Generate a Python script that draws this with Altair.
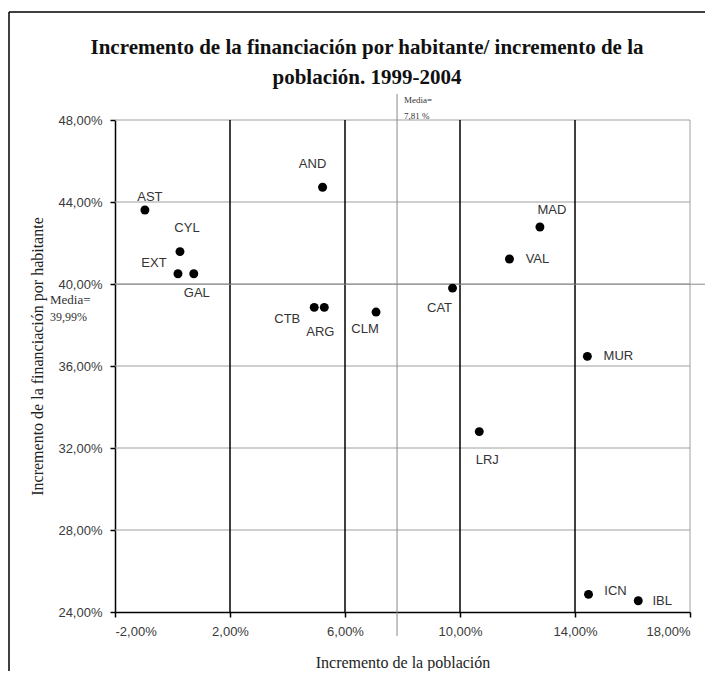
import altair as alt
import pandas as pd

# ---- data ----
regions = ["AST", "CYL", "EXT", "GAL", "AND", "CTB", "ARG", "CLM",
           "CAT", "VAL", "MAD", "MUR", "LRJ", "ICN", "IBL"]
pop_growth = [-0.96, 0.26, 0.19, 0.74, 5.22, 4.93, 5.28, 7.08,
              9.74, 11.72, 12.78, 14.43, 10.67, 14.47, 16.20]
fin_growth = [43.61, 41.58, 40.50, 40.50, 44.72, 38.86, 38.86, 38.63,
              39.80, 41.22, 42.78, 36.47, 32.80, 24.86, 24.55]

x_ticks = [-2, 2, 6, 10, 14, 18]
y_ticks = [24, 28, 32, 36, 40, 44, 48]
mean_x = 7.81
mean_y = 39.99

title_lines = ["Incremento de la financiación por habitante/ incremento de la",
               "población. 1999-2004"]
x_title = "Incremento de la población"
y_title = "Incremento de la financiación por habitante"

# ---- label placement (layout only, pixels) ----
label_offsets = {
    "AST": (5, -13), "CYL": (7, -24), "EXT": (-24, -11), "GAL": (3, 19),
    "AND": (-10, -23), "CTB": (-27, 12), "ARG": (-4, 25), "CLM": (-11, 17),
    "CAT": (-13, 20), "VAL": (28, 0), "MAD": (12, -17), "MUR": (31, 0),
    "LRJ": (8, 28), "ICN": (27, -3), "IBL": (24, 0),
}

df = pd.DataFrame({"name": regions, "x": pop_growth, "y": fin_growth})

xs = alt.Scale(domain=[x_ticks[0], x_ticks[-1]], nice=False, zero=False)
ys = alt.Scale(domain=[y_ticks[0], y_ticks[-1]], nice=False, zero=False)

fmt = "replace(replace(format(datum.value, '.2f'), '.', ','), '\u2212', '-') + '%'"
SANS = "Liberation Sans"
SERIF = "Liberation Serif"

x_axis = alt.Axis(values=x_ticks, labelExpr=fmt, grid=False,
                  domainColor="black", domainWidth=1.5,
                  tickColor="black", tickWidth=1.5, tickSize=5,
                  labelFont=SANS, labelFontSize=13, labelColor="#3a3a3a",
                  labelPadding=8, title=x_title, titleFont=SERIF,
                  titleFontSize=16, titleFontWeight="normal", titleColor="#222",
                  titleY=50, titleBaseline="middle")
y_axis = alt.Axis(values=y_ticks, labelExpr=fmt, grid=False,
                  domainColor="black", domainWidth=1.5,
                  tickColor="black", tickWidth=1.5, tickSize=5,
                  labelFont=SANS, labelFontSize=13, labelColor="#3a3a3a",
                  labelPadding=8, title=y_title, titleFont=SERIF,
                  titleFontSize=16, titleFontWeight="normal", titleColor="#222",
                  titleX=-78, titleY=236, titleBaseline="middle", titleAlign="center")


def X(field="x"):
    return alt.X(f"{field}:Q", scale=xs, axis=x_axis)


def Y(field="y"):
    return alt.Y(f"{field}:Q", scale=ys, axis=y_axis)


one = pd.DataFrame({"a": [0]})

hgrid = alt.Chart(pd.DataFrame({"y": y_ticks[1:]})).mark_rule(
    color="#a0a0a0", strokeWidth=1).encode(y=Y())

vgrid_dark = alt.Chart(pd.DataFrame({"x": x_ticks[1:-1]})).mark_rule(
    color="black", strokeWidth=1.5).encode(x=X())

vgrid_edge = alt.Chart(pd.DataFrame({"x": x_ticks[-1:]})).mark_rule(
    color="#a0a0a0", strokeWidth=1).encode(x=X())

mean_df = pd.DataFrame({"mx": [mean_x], "my": [mean_y]})

mean_v = alt.Chart(mean_df).mark_rule(color="#8a8a8a", strokeWidth=1).encode(
    x=alt.X("mx:Q", scale=xs, axis=x_axis), y=alt.value(-26), y2=alt.value(516))

mean_h = alt.Chart(mean_df).mark_rule(color="#8a8a8a", strokeWidth=1).encode(
    y=alt.Y("my:Q", scale=ys, axis=y_axis), x=alt.value(0), x2=alt.value(600))

points = alt.Chart(df).mark_circle(size=80, color="black", opacity=1).encode(
    x=X(), y=Y())

label_layers = []
for n in regions:
    dx, dy = label_offsets[n]
    label_layers.append(
        alt.Chart(df).transform_filter(alt.datum.name == n).mark_text(
            font=SANS, fontSize=13, color="#333", dx=dx, dy=dy,
            align="center", baseline="middle").encode(
            x=X(), y=Y(), text="name:N")
    )

mx_text = f"{mean_x:.2f}".replace(".", ",") + " %"
my_text = f"{mean_y:.2f}".replace(".", ",") + "%"

mean_x_lbl1 = alt.Chart(mean_df).mark_text(font=SERIF, fontSize=9, color="#333",
                                           align="left", baseline="middle", dx=7).encode(
    x=alt.X("mx:Q", scale=xs, axis=x_axis), y=alt.value(-20), text=alt.value("Media="))
mean_x_lbl2 = alt.Chart(mean_df).mark_text(font=SERIF, fontSize=9, color="#333",
                                           align="left", baseline="middle", dx=7).encode(
    x=alt.X("mx:Q", scale=xs, axis=x_axis), y=alt.value(-4), text=alt.value(mx_text))
mean_y_lbl1 = alt.Chart(mean_df).mark_text(font=SERIF, fontSize=13, color="#333",
                                           align="left", baseline="middle", dy=16).encode(
    y=alt.Y("my:Q", scale=ys, axis=y_axis), x=alt.value(-65), text=alt.value("Media="))
mean_y_lbl2 = alt.Chart(mean_df).mark_text(font=SERIF, fontSize=12, color="#333",
                                           align="left", baseline="middle", dy=33).encode(
    y=alt.Y("my:Q", scale=ys, axis=y_axis), x=alt.value(-65), text=alt.value(my_text))

title1 = alt.Chart(one).mark_text(font=SERIF, fontSize=21, fontWeight="bold",
                                  color="#111", align="center", baseline="middle").encode(
    x=alt.value(252), y=alt.value(-72), text=alt.value(title_lines[0]))
title2 = alt.Chart(one).mark_text(font=SERIF, fontSize=21, fontWeight="bold",
                                  color="#111", align="center", baseline="middle").encode(
    x=alt.value(252), y=alt.value(-42), text=alt.value(title_lines[1]))

frame_left = alt.Chart(one).mark_rule(color="black", strokeWidth=1.5).encode(
    x=alt.value(-106), y=alt.value(-108), y2=alt.value(600))
frame_top = alt.Chart(one).mark_rule(color="black", strokeWidth=1.5).encode(
    x=alt.value(-106), x2=alt.value(620), y=alt.value(-108))

chart = alt.layer(
    hgrid, vgrid_edge, vgrid_dark, mean_v, mean_h, points, *label_layers,
    mean_x_lbl1, mean_x_lbl2, mean_y_lbl1, mean_y_lbl2, title1, title2,
    frame_left, frame_top,
).properties(
    width=575, height=492,
    autosize=alt.AutoSizeParams(type="none"),
    padding={"left": 107, "top": 112, "right": 15, "bottom": 59},
    background="white",
).configure_view(stroke=None)

chart.save("out.html", embed_options={"renderer": "svg", "actions": False})
